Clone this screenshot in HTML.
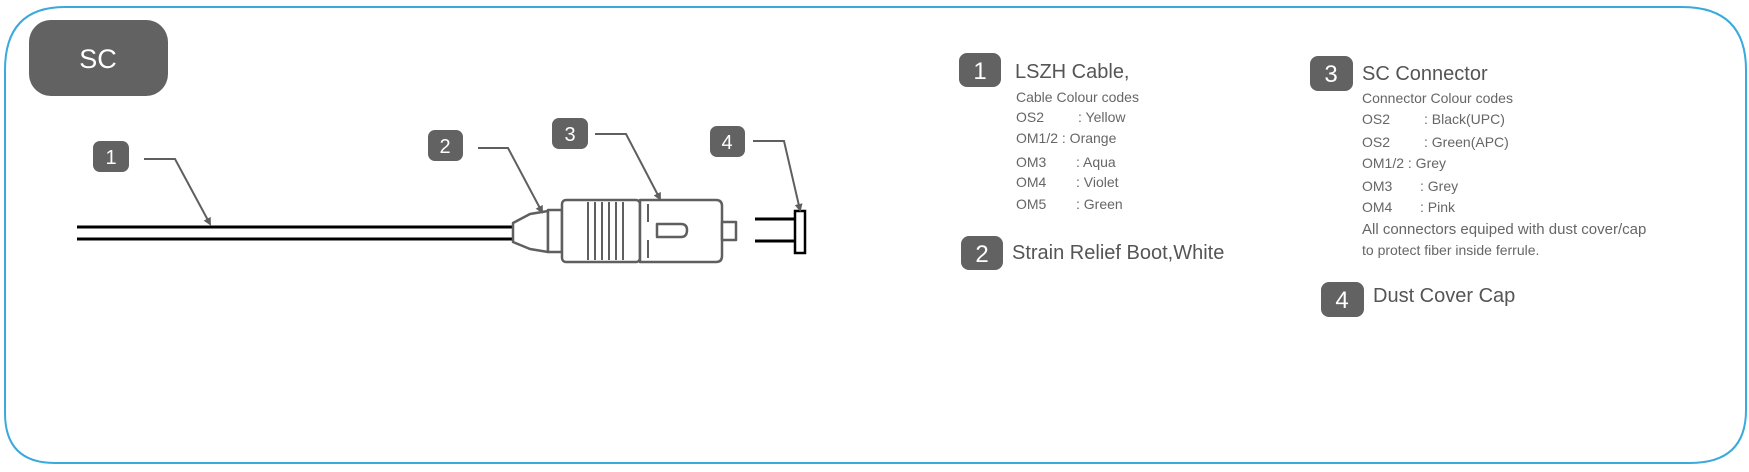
<!DOCTYPE html>
<html><head><meta charset="utf-8"><style>
html,body{margin:0;padding:0;background:#fff;}
svg{display:block;}
text{font-family:"Liberation Sans",sans-serif;}
</style></head><body>
<svg width="1749" height="472" viewBox="0 0 1749 472" xmlns="http://www.w3.org/2000/svg">
<defs>
<marker id="ar" markerWidth="8" markerHeight="10" refX="6" refY="5" orient="auto" markerUnits="userSpaceOnUse">
<path d="M0,1 L8,5 L0,9 z" fill="#5f5f5f"/></marker>
</defs>
<!-- frame -->
<path d="M65,7 L1682,7 Q1746,7 1746,70 L1746,410 Q1746,463 1690,463 L55,463 Q5,463 5,413 L5,70 Q5,7 65,7 Z" fill="none" stroke="#3aa9dc" stroke-width="2"/>
<!-- SC box -->
<rect x="29" y="20" width="139" height="76" rx="22" fill="#626262"/>
<text x="98" y="68" font-size="27" fill="#fff" text-anchor="middle">SC</text>

<!-- cable -->
<line x1="77" y1="227" x2="513" y2="227" stroke="#000" stroke-width="3"/>
<line x1="77" y1="239" x2="513" y2="239" stroke="#000" stroke-width="3"/>
<g fill="#fff" stroke="#5f5f5f" stroke-width="2.5" stroke-linejoin="round">
<path d="M513,223 L530,214 L548,211 L548,252 L530,249 L513,242 Z"/>
<rect x="548" y="210" width="14" height="42"/>
<rect x="562" y="200" width="78" height="62" rx="4"/>
<path d="M640,200 L716,200 Q722,200 722,206 L722,256 Q722,262 716,262 L640,262 Z"/>
<rect x="722" y="222" width="14" height="18"/>
<path d="M657,224 L681,224 Q687,224 687,230 Q687,237 681,237 L657,237 Z"/>
</g>
<g stroke="#5f5f5f" stroke-width="2">
<line x1="588" y1="202" x2="588" y2="260"/><line x1="595" y1="202" x2="595" y2="260"/>
<line x1="602" y1="202" x2="602" y2="260"/><line x1="609" y1="202" x2="609" y2="260"/>
<line x1="616" y1="202" x2="616" y2="260"/><line x1="623" y1="202" x2="623" y2="260"/>
<line x1="648" y1="204" x2="648" y2="222"/><line x1="648" y1="240" x2="648" y2="258"/>
</g>
<!-- dust cap -->
<line x1="755" y1="219" x2="795" y2="219" stroke="#000" stroke-width="3"/>
<line x1="755" y1="241" x2="795" y2="241" stroke="#000" stroke-width="3"/>
<rect x="795" y="211" width="10" height="42" fill="#fff" stroke="#000" stroke-width="2.5"/>

<!-- badges left -->
<g fill="#626262">
<rect x="93" y="141" width="36" height="31" rx="7"/>
<rect x="428" y="130" width="35" height="31" rx="7"/>
<rect x="552" y="118" width="36" height="31" rx="7"/>
<rect x="710" y="126" width="35" height="31" rx="7"/>
</g>
<g fill="#fff" font-size="20" text-anchor="middle">
<text x="111" y="164">1</text><text x="445" y="153">2</text><text x="570" y="141">3</text><text x="727" y="149">4</text>
</g>
<g fill="none" stroke="#5f5f5f" stroke-width="2" marker-end="url(#ar)">
<polyline points="144,159 175,159 210,224"/>
<polyline points="478,148 508,148 542,212"/>
<polyline points="595,134 626,134 660,199"/>
<polyline points="753,141 784,141 800,210"/>
</g>

<!-- right badges -->
<g fill="#626262">
<rect x="959" y="53" width="42" height="34" rx="8"/>
<rect x="961" y="236" width="42" height="34" rx="8"/>
<rect x="1310" y="56" width="43" height="35" rx="8"/>
<rect x="1321" y="282" width="43" height="35" rx="8"/>
</g>
<g fill="#fff" font-size="24" text-anchor="middle">
<text x="980" y="79">1</text><text x="982" y="262">2</text><text x="1331" y="82">3</text><text x="1342" y="308">4</text>
</g>
<g fill="#555" font-size="20">
<text x="1015" y="78">LSZH Cable,</text>
<text x="1012" y="259">Strain Relief Boot,White</text>
<text x="1362" y="80">SC Connector</text>
<text x="1373" y="302">Dust Cover Cap</text>
</g>
<g fill="#666" font-size="14">
<text x="1016" y="102">Cable  Colour codes</text>
<text x="1016" y="122">OS2</text><text x="1078" y="122">: Yellow</text>
<text x="1016" y="143">OM1/2 : Orange</text>
<text x="1016" y="167">OM3</text><text x="1076" y="167">: Aqua</text>
<text x="1016" y="187">OM4</text><text x="1076" y="187">: Violet</text>
<text x="1016" y="209">OM5</text><text x="1076" y="209">: Green</text>

<text x="1362" y="103">Connector Colour codes</text>
<text x="1362" y="124">OS2</text><text x="1424" y="124">: Black(UPC)</text>
<text x="1362" y="147">OS2</text><text x="1424" y="147">: Green(APC)</text>
<text x="1362" y="168">OM1/2 : Grey</text>
<text x="1362" y="191">OM3</text><text x="1420" y="191">: Grey</text>
<text x="1362" y="212">OM4</text><text x="1420" y="212">: Pink</text>
<text x="1362" y="234" font-size="15">All connectors equiped with dust cover/cap</text>
<text x="1362" y="255">to protect fiber inside ferrule.</text>
</g>
</svg>
</body></html>
